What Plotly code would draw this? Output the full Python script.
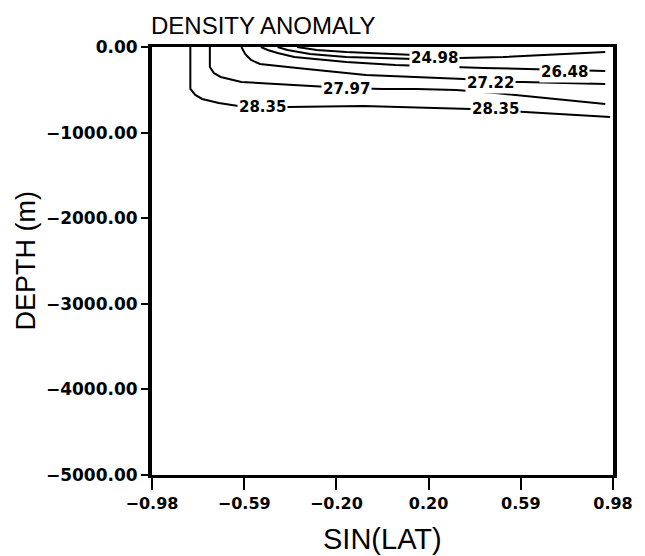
import plotly.graph_objects as go

# ---- data ----
x_tickvals = [-0.98, -0.588, -0.196, 0.196, 0.588, 0.98]
x_ticktext = ["\u22120.98", "\u22120.59", "\u22120.20", "0.20", "0.59", "0.98"]
y_tickvals = [0, -1000, -2000, -3000, -4000, -5000]
y_ticktext = ["0.00", "\u22121000.00", "\u22122000.00", "\u22123000.00", "\u22124000.00", "\u22125000.00"]

# contour lines (sin(lat), depth in m)
c2835_x = [-0.817, -0.817, -0.796, -0.767, -0.696, -0.613, -0.404, -0.083, 0.376, 0.584, 0.968]
c2835_y = [0, -490, -560, -607, -654, -689, -701, -689, -724, -759, -818]
c2797_x = [-0.734, -0.734, -0.717, -0.688, -0.600, -0.363, -0.154, 0.0, 0.146, 0.313, 0.480, 0.947]
c2797_y = [0, -234, -304, -350, -409, -444, -479, -490, -490, -502, -537, -666]
c2722_x = [-0.600, -0.584, -0.559, -0.521, -0.363, -0.071, 0.346, 0.471, 0.596, 0.947]
c2722_y = [0, -82, -152, -199, -245, -327, -374, -409, -409, -432]
c2648_x = [-0.517, -0.488, -0.446, -0.375, -0.154, 0.055, 0.430, 0.734, 0.947]
c2648_y = [0, -35, -70, -117, -175, -210, -245, -269, -280]
c2498_x = [-0.446, -0.404, -0.308, -0.154, 0.138, 0.346, 0.513, 0.947]
c2498_y = [0, -35, -82, -117, -140, -128, -117, -58]
ctop_x = [-0.363, -0.280, -0.154, 0.096, 0.138]
ctop_y = [0, -35, -58, -82, -93]

contours = [
    (c2835_x, c2835_y),
    (c2797_x, c2797_y),
    (c2722_x, c2722_y),
    (c2648_x, c2648_y),
    (c2498_x, c2498_y),
    (ctop_x, ctop_y),
]

# contour labels (sin(lat), depth, text)
label_x = [-0.509, 0.480, -0.154, 0.459, 0.772, 0.221]
label_y = [-701, -724, -490, -421, -292, -134]
label_text = ["28.35", "28.35", "27.97", "27.22", "26.48", "24.98"]

fig = go.Figure()
for cx, cy in contours:
    fig.add_trace(go.Scatter(x=cx, y=cy, mode="lines",
                             line=dict(color="black", width=2),
                             showlegend=False, hoverinfo="skip"))

for lx, ly, lt in zip(label_x, label_y, label_text):
    fig.add_annotation(x=lx, y=ly, xref="x", yref="y", text=lt, showarrow=False,
                       bgcolor="white", borderpad=1,
                       font=dict(family="DejaVu Sans", size=15, color="black", weight="bold"))

fig.add_annotation(x=0, y=1, xref="paper", yref="paper", xanchor="left", yanchor="bottom",
                   xshift=-3, yshift=6, text="DENSITY ANOMALY", showarrow=False,
                   font=dict(family="Liberation Sans", size=24, color="black"))
fig.add_annotation(x=0.5, y=-0.1495, xref="paper", yref="paper", xanchor="center", yanchor="middle",
                   text="SIN(LAT)", showarrow=False,
                   font=dict(family="Liberation Sans", size=29, color="black"))
fig.add_annotation(x=-0.2723, y=0.5, xref="paper", yref="paper", xanchor="center", yanchor="middle",
                   text="DEPTH (m)", textangle=-90, showarrow=False,
                   font=dict(family="Liberation Sans", size=27, color="black"))

# page body has an 8px default margin: size/margins compensate so the plot box
# lands at about x 152..624, y 47..475 in the window
fig.update_layout(
    width=637, height=548,
    margin=dict(l=144, r=21, t=39, b=81),
    paper_bgcolor="white", plot_bgcolor="white",
    showlegend=False,
)
fig.update_xaxes(range=[-0.98, 0.98], tickvals=x_tickvals, ticktext=x_ticktext,
                 showgrid=False, zeroline=False, showline=True, linecolor="black",
                 linewidth=3, mirror=True, ticks="outside", ticklen=12, tickwidth=2,
                 tickcolor="black",
                 tickfont=dict(family="DejaVu Sans", size=16, color="black", weight="bold"))
fig.update_yaxes(range=[-5000, 0], tickvals=y_tickvals, ticktext=y_ticktext,
                 showgrid=False, zeroline=False, showline=True, linecolor="black",
                 linewidth=4, mirror=True, ticks="outside", ticklen=7, tickwidth=2,
                 tickcolor="black",
                 tickfont=dict(family="DejaVu Sans", size=17, color="black", weight="bold"))

fig.write_html("out.html")
